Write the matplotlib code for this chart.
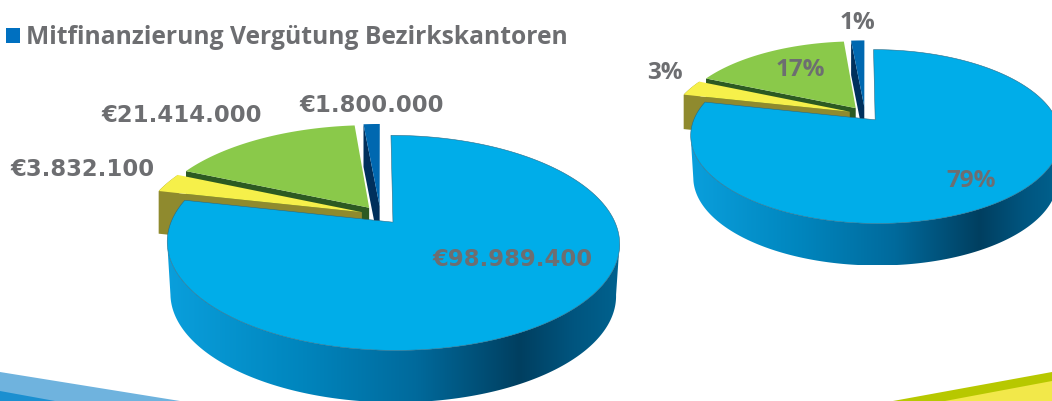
import matplotlib
matplotlib.use("Agg")
import matplotlib.pyplot as plt
import numpy as np
from matplotlib.colors import LinearSegmentedColormap
from matplotlib.patches import Polygon

# slices, clockwise from 12 o'clock
values = [98989400, 3832100, 21414000, 1800000]
euro_labels = ["€98.989.400", "€3.832.100", "€21.414.000", "€1.800.000"]
pct_labels = ["79%", "3%", "17%", "1%"]
legend_label = "Mitfinanzierung Vergütung Bezirkskantoren"

top_colors = ["#00ade9", "#f6f04a", "#8ac94a", "#0068b0"]
wall_colors = ["#0085bd", "#8f8a2e", "#2c5a22", "#00305c"]
grey = "#6d6e71"
font = "Open Sans"

blue_wall = LinearSegmentedColormap.from_list("wall", [
	(0.0, "#0a9fdc"), (0.3, "#0085bd"), (0.55, "#006a9c"),
	(0.78, "#003f60"), (0.9, "#00557f"), (1.0, "#00628f")])
yellow_wall = LinearSegmentedColormap.from_list("ywall", ["#6f6b1e", "#a8a23c"])

K = 0.19  # perspective of the pie plane
EXPLODE = 0.09


def project(u, v, p):
	w = 1 + K * v
	return p["cx"] + p["rx"] * u / w, p["cy"] - p["ry"] * v / w


def outline(start, end, off, p):
	ang = np.radians(np.linspace(start, end, 200))
	xs, ys = project(np.r_[off[0], off[0] + np.sin(ang)], np.r_[off[1], off[1] + np.cos(ang)], p)
	return np.c_[xs, ys]


def wall_arc(start, end, off, p, scale=1.0):
	ang = np.radians(np.linspace(start, end, 200))
	xs, ys = project(off[0] + np.sin(ang), off[1] + np.cos(ang), p)
	top = np.c_[xs, ys]
	bot = np.c_[p["cx"] + (xs - p["cx"]) * 0.985, ys + p["depth"] * scale]
	return np.r_[top, bot[::-1]]


def gradient_fill(ax, pts, cmap):
	patch = Polygon(pts, closed=True, fc="none", ec="none")
	ax.add_patch(patch)
	x0, x1 = pts[:, 0].min(), pts[:, 0].max()
	img = ax.imshow(np.linspace(0, 1, 256)[None, :], cmap=cmap, aspect="auto",
		extent=[x0, x1, pts[:, 1].max(), pts[:, 1].min()], interpolation="bilinear")
	img.set_clip_path(patch)


def draw_pie(ax, p):
	angles = np.cumsum([0] + values) / sum(values) * 360
	mids = (angles[:-1] + angles[1:]) / 2
	offs = [(EXPLODE * np.sin(np.radians(m)), EXPLODE * np.cos(np.radians(m))) for m in mids]

	# back to front: green, dark blue, yellow, big blue
	for i in [2, 3, 1, 0]:
		start, end = angles[i], angles[i + 1]
		off = offs[i]
		if i != 0:
			# radial wall on the side that faces the viewer
			a = np.radians(start)
			cx0, cy0 = project(off[0], off[1], p)
			ex, ey = project(off[0] + np.sin(a), off[1] + np.cos(a), p)
			d = p["depth"] * 0.82
			side = np.array([[cx0, cy0], [ex, ey], [ex, ey + d], [cx0, cy0 + d]])
			ax.add_patch(Polygon(side, closed=True, fc=wall_colors[i], ec="none"))
		if i == 1:
			gradient_fill(ax, wall_arc(start, end, off, p, 0.82), yellow_wall)
		if i == 0:
			gradient_fill(ax, wall_arc(101, 259, off, p), blue_wall)
		edge = "#2a6a85" if i == 0 else "none"
		ax.add_patch(Polygon(outline(start, end, off, p), closed=True, fc=top_colors[i], ec=edge, lw=0.4))


fig = plt.figure(figsize=(10.52, 4.01), dpi=100)
ax = fig.add_axes([0, 0, 1, 1])
ax.axis("off")

# swooshes of the slide background
ax.add_patch(Polygon([[0, 372], [180, 401], [0, 401]], fc="#6fb3de", ec="none"))
ax.add_patch(Polygon([[0, 391], [55, 401], [0, 401]], fc="#1b8fd0", ec="none"))
ax.add_patch(Polygon([[893, 401], [1052, 372], [1052, 401]], fc="#b7c800", ec="none"))
ax.add_patch(Polygon([[945, 401], [1052, 381], [1052, 401]], fc="#f2e84a", ec="none"))

draw_pie(ax, dict(cx=380.5, cy=215, rx=219, ry=100.8, depth=52))
draw_pie(ax, dict(cx=865, cy=114, rx=179, ry=81.5, depth=42))

ax.set_xlim(0, 1052)
ax.set_ylim(401, 0)

ax.add_patch(Polygon([[6, 28], [20, 28], [20, 43], [6, 43]], fc="#0070c0", ec="none"))
ax.text(26, 38, legend_label, fontsize=17.75, fontweight="bold", color=grey, family=font, ha="left", va="center")

euro_pos = [(513, 260), (82, 170), (182, 115), (372, 106)]
pct_pos = [(971, 181), (665, 73), (800, 70), (857, 23)]
for lab, pos in zip(euro_labels, euro_pos):
	ax.text(pos[0], pos[1], lab, fontsize=16.4, fontweight="bold", color=grey, family="DejaVu Sans", ha="center", va="center")
for lab, pos in zip(pct_labels, pct_pos):
	ax.text(pos[0], pos[1], lab, fontsize=17.5, fontweight="bold", color=grey, family=font, ha="center", va="center")

fig.savefig("out.png", dpi=100)
